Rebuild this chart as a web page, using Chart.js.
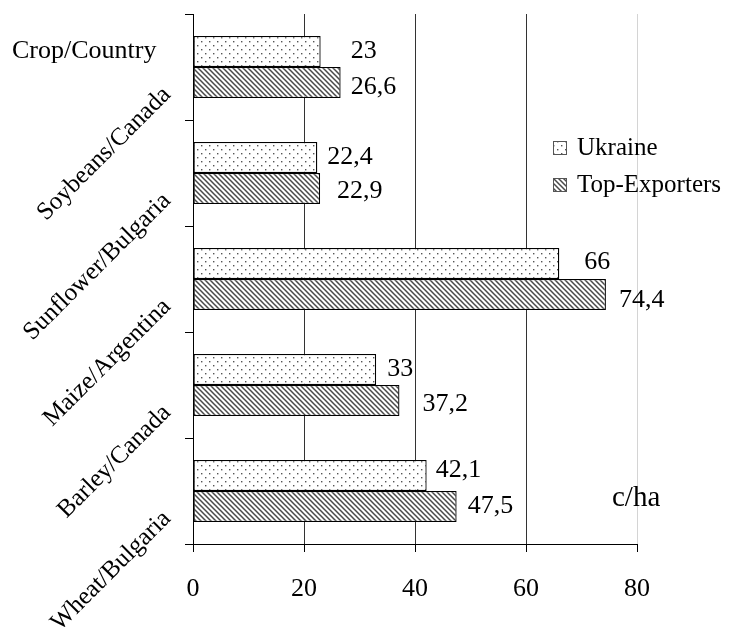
<!DOCTYPE html>
<html>
<head>
<meta charset="utf-8">
<title>Yields: Ukraine vs top exporters</title>
<script src="https://cdn.jsdelivr.net/npm/chart.js@4.4.1/dist/chart.umd.min.js"></script>
<style>
    html, body { margin: 0; padding: 0; background: #fff; }
    #wrap { width: 730px; height: 630px; }
</style>
</head>
<body>
<div id="wrap"><canvas id="yieldChart" width="730" height="630"></canvas></div>
<script>
// Crop / top exporting country, top to bottom
const crops = ['Soybeans/Canada', 'Sunflower/Bulgaria', 'Maize/Argentina', 'Barley/Canada', 'Wheat/Bulgaria'];

// Yields, c/ha
const ukraine = [23, 22.4, 66, 33, 42.1];
const topExporters = [26.6, 22.9, 74.4, 37.2, 47.5];

// Value axis ticks
const xTicks = [0, 20, 40, 60, 80];

// Value labels were nudged by hand in the original, [dx, dy] from the bar end
const ukraineNudge = [[30, 0], [10, 0], [25, -1], [11, 0], [9, -5]];
const exportersNudge = [[10, 5], [17, 3], [13, 6], [23, 4], [11, 0]];

const FONT = '"Liberation Serif", "Times New Roman", serif';

// Dotted fill (Ukraine)
function makeDots() {
    const c = document.createElement('canvas');
    c.width = 8;
    c.height = 8;
    const g = c.getContext('2d');
    g.fillStyle = '#fff';
    g.fillRect(0, 0, 8, 8);
    g.fillStyle = '#555';
    g.fillRect(1, 1, 1.4, 1.4);
    g.fillRect(5, 5, 1.4, 1.4);
    return g.createPattern(c, 'repeat');
}

// Downward diagonal stripes (Top-Exporters)
function makeStripes() {
    const c = document.createElement('canvas');
    c.width = 5;
    c.height = 5;
    const g = c.getContext('2d');
    g.fillStyle = '#fff';
    g.fillRect(0, 0, 5, 5);
    g.strokeStyle = '#4a4a4a';
    g.lineWidth = 1.5;
    g.beginPath();
    g.moveTo(-1, -1); g.lineTo(6, 6);
    g.moveTo(-1, 4); g.lineTo(2, 7);
    g.moveTo(4, -1); g.lineTo(7, 2);
    g.stroke();
    return g.createPattern(c, 'repeat');
}

function fmt(v) {
    return String(v).replace('.', ',');
}

// Value labels next to the bars
const valueLabels = {
    id: 'valueLabels',
    afterDatasetsDraw(chart) {
        const ctx = chart.ctx;
        const nudges = [ukraineNudge, exportersNudge];
        ctx.save();
        ctx.font = '26px ' + FONT;
        ctx.fillStyle = '#000';
        ctx.textAlign = 'left';
        ctx.textBaseline = 'middle';
        chart.data.datasets.forEach((ds, di) => {
            chart.getDatasetMeta(di).data.forEach((bar, i) => {
                const [dx, dy] = nudges[di][i];
                ctx.fillText(fmt(ds.data[i]), bar.x + dx, bar.y + dy);
            });
        });
        ctx.restore();
    }
};

// Legend inside the plot, header text and unit
const extras = {
    id: 'extras',
    afterDraw(chart) {
        const ctx = chart.ctx;
        ctx.save();
        ctx.font = '25px ' + FONT;
        ctx.textBaseline = 'middle';
        chart.data.datasets.forEach((ds, i) => {
            const y = 148 + i * 37;
            ctx.fillStyle = ds.backgroundColor;
            ctx.fillRect(553, y - 7, 14, 14);
            ctx.strokeStyle = '#555';
            ctx.lineWidth = 1;
            ctx.strokeRect(553.5, y - 6.5, 13, 13);
            ctx.fillStyle = '#000';
            ctx.fillText(ds.label, 577, y);
        });
        ctx.textBaseline = 'alphabetic';
        ctx.font = '26px ' + FONT;
        ctx.fillText('Crop/Country', 12, 58);
        ctx.font = '29px ' + FONT;
        ctx.fillText('c/ha', 612, 506);
        ctx.restore();
    }
};

Chart.defaults.font.family = FONT;
Chart.defaults.color = '#000';

new Chart(document.getElementById('yieldChart'), {
    type: 'bar',
    data: {
        labels: crops,
        datasets: [{
            label: 'Ukraine',
            data: ukraine,
            backgroundColor: makeDots(),
            borderColor: '#000',
            borderWidth: 1.3,
            borderSkipped: false
        }, {
            label: 'Top-Exporters',
            data: topExporters,
            backgroundColor: makeStripes(),
            borderColor: '#000',
            borderWidth: 1.3,
            borderSkipped: false
        }]
    },
    options: {
        indexAxis: 'y',
        responsive: false,
        animation: false,
        devicePixelRatio: 1,
        categoryPercentage: 0.585,
        barPercentage: 1,
        layout: {
            padding: { top: 14, right: 93, bottom: 0, left: 0 }
        },
        plugins: {
            legend: { display: false },
            tooltip: { enabled: false }
        },
        scales: {
            x: {
                min: xTicks[0],
                max: xTicks[xTicks.length - 1],
                afterBuildTicks: function(scale) {
                    scale.ticks = xTicks.map(v => ({ value: v }));
                },
                afterFit: function(scale) {
                    scale.height = 86;
                },
                ticks: {
                    font: { size: 26 },
                    padding: 22
                },
                grid: {
                    color: ctx => (ctx.tick && ctx.tick.value === 80) ? '#d4d4d4' : '#333',
                    tickColor: '#000',
                    tickLength: 8,
                    lineWidth: 1
                },
                border: { color: '#000', width: 1 }
            },
            y: {
                afterFit: function(scale) {
                    scale.width = 193;
                    scale.paddingTop = 0;
                    scale.paddingBottom = 0;
                },
                ticks: {
                    font: { size: 25 },
                    minRotation: 45,
                    maxRotation: 45,
                    autoSkip: false,
                    padding: 18,
                    labelOffset: 24
                },
                grid: {
                    drawOnChartArea: false,
                    color: '#000',
                    tickLength: 8
                },
                border: { color: '#000', width: 1 }
            }
        }
    },
    plugins: [valueLabels, extras]
});
</script>
</body>
</html>
